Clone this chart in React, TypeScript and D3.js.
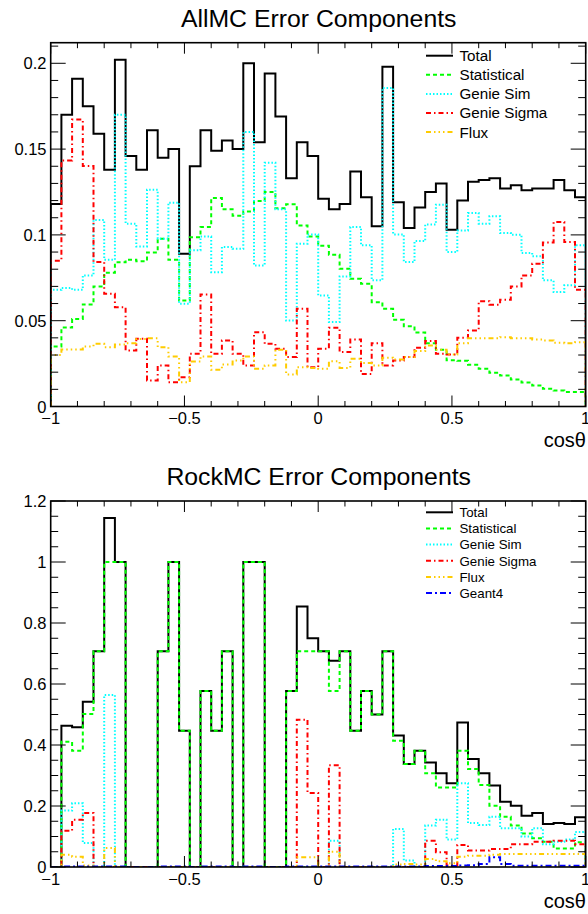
import React from "react";
import * as d3 from "d3";

const NBINS = 50;
const XMIN = -1;
const XMAX = 1;

// ---------- AllMC (top panel) ----------
const allTotal = [0.118, 0.170, 0.191, 0.175, 0.159, 0.138, 0.202, 0.146, 0.138, 0.161, 0.145, 0.150, 0.089, 0.140, 0.161, 0.149, 0.155, 0.150, 0.200, 0.154, 0.194, 0.169, 0.133, 0.154, 0.146, 0.121, 0.115, 0.118, 0.137, 0.122, 0.105, 0.198, 0.119, 0.104, 0.116, 0.125, 0.130, 0.103, 0.120, 0.131, 0.132, 0.133, 0.127, 0.129, 0.126, 0.127, 0.127, 0.132, 0.126, 0.122];
const allStat = [0.035, 0.046, 0.051, 0.0595, 0.070, 0.078, 0.084, 0.0855, 0.0847, 0.0898, 0.0978, 0.0855, 0.0618, 0.0987, 0.1046, 0.1215, 0.1149, 0.1112, 0.1137, 0.1197, 0.125, 0.1156, 0.1178, 0.1055, 0.0991, 0.0937, 0.0884, 0.0803, 0.0744, 0.0715, 0.0608, 0.0569, 0.0505, 0.0468, 0.0431, 0.0369, 0.033, 0.027, 0.0266, 0.0243, 0.022, 0.0196, 0.0181, 0.0157, 0.014, 0.0122, 0.0103, 0.0093, 0.0084, 0.0084];
const allGenieSim = [0.068, 0.069, 0.068, 0.0764, 0.1087, 0.0855, 0.170, 0.1065, 0.0933, 0.1263, 0.0978, 0.1188, 0.0599, 0.091, 0.099, 0.0783, 0.093, 0.0919, 0.160, 0.0822, 0.142, 0.1149, 0.0501, 0.0948, 0.1003, 0.0647, 0.0492, 0.0758, 0.1046, 0.0939, 0.0735, 0.1856, 0.1003, 0.0842, 0.0964, 0.1061, 0.1176, 0.090, 0.1026, 0.1127, 0.1065, 0.1108, 0.1011, 0.1001, 0.0894, 0.0875, 0.0735, 0.0667, 0.0706, 0.0939];
const allGenieSigma = [0.085, 0.1434, 0.1672, 0.1401, 0.0842, 0.0657, 0.0579, 0.0327, 0.0395, 0.0152, 0.0239, 0.0142, 0.0171, 0.0307, 0.0653, 0.0307, 0.0385, 0.0307, 0.0239, 0.0433, 0.0365, 0.0336, 0.0288, 0.0569, 0.0229, 0.0336, 0.0459, 0.0317, 0.0391, 0.019, 0.0369, 0.0239, 0.0268, 0.0288, 0.0342, 0.0381, 0.0307, 0.0303, 0.040, 0.0443, 0.0614, 0.0593, 0.0622, 0.070, 0.0764, 0.0832, 0.0956, 0.1075, 0.0958, 0.068];
const allFlux = [0.030, 0.0332, 0.0332, 0.035, 0.0365, 0.0346, 0.0362, 0.0369, 0.0393, 0.0398, 0.0346, 0.0292, 0.0142, 0.0262, 0.0292, 0.0214, 0.0245, 0.0268, 0.0292, 0.022, 0.0239, 0.033, 0.0187, 0.0229, 0.0225, 0.022, 0.0264, 0.0225, 0.0278, 0.0253, 0.0239, 0.0284, 0.0274, 0.0288, 0.0323, 0.0356, 0.033, 0.0303, 0.0369, 0.0398, 0.0398, 0.0398, 0.0404, 0.0398, 0.0398, 0.039, 0.0385, 0.0371, 0.0369, 0.0375];

// ---------- RockMC (bottom panel) ----------
const rockTotal = [0, 0.463, 0.458, 0.542, 0.707, 1.144, 1.0, 0, 0, 0, 0.707, 1.0, 0.447, 0, 0.577, 0.447, 0.707, 0, 1.0, 1.0, 0, 0, 0.577, 0.854, 0.75, 0.707, 0.676, 0.707, 0.447, 0.577, 0.5, 0.707, 0.431, 0.338, 0.381, 0.343, 0.307, 0.275, 0.474, 0.354, 0.307, 0.267, 0.214, 0.201, 0.168, 0.177, 0.141, 0.144, 0.141, 0.163];
const rockStat = [0, 0.411, 0.381, 0.502, 0.707, 1.0, 1.0, 0, 0, 0, 0.707, 1.0, 0.447, 0, 0.577, 0.447, 0.707, 0, 1.0, 1.0, 0, 0, 0.577, 0.707, 0.707, 0.707, 0.577, 0.707, 0.447, 0.577, 0.5, 0.707, 0.414, 0.338, 0.381, 0.307, 0.261, 0.261, 0.381, 0.321, 0.269, 0.201, 0.165, 0.136, 0.110, 0.094, 0.083, 0.061, 0.061, 0.081];
const rockGenieSim = [0, 0.185, 0.209, 0.079, 0, 0.564, 0, 0, 0, 0, 0, 0, 0, 0, 0, 0, 0, 0, 0, 0, 0, 0, 0, 0, 0, 0, 0.086, 0, 0, 0, 0, 0, 0.125, 0.021, 0, 0.136, 0.155, 0.09, 0.275, 0.144, 0.138, 0.165, 0.127, 0.127, 0.1, 0.127, 0.075, 0.083, 0.09, 0.115];
const rockGenieSigma = [0, 0.119, 0.155, 0.177, 0, 0, 0, 0, 0, 0, 0, 0, 0, 0, 0, 0, 0, 0, 0, 0, 0, 0, 0, 0.483, 0.243, 0, 0.334, 0, 0, 0, 0, 0, 0, 0, 0, 0.086, 0.048, 0.005, 0.072, 0.054, 0.054, 0.059, 0.059, 0.075, 0.075, 0.083, 0.083, 0.086, 0.086, 0.075];
const rockFlux = [0, 0.04, 0.034, 0.005, 0, 0.062, 0, 0, 0, 0, 0, 0, 0, 0, 0, 0, 0, 0, 0, 0, 0, 0, 0, 0.032, 0.032, 0, 0.05, 0, 0, 0, 0, 0, 0.008, 0.01, 0.008, 0.026, 0.019, 0.012, 0.034, 0.037, 0.037, 0.04, 0.043, 0.043, 0.043, 0.043, 0.043, 0.043, 0.043, 0.043];
const rockGeant4 = [0, 0.002, 0.002, 0.002, 0.002, 0.002, 0.002, 0, 0, 0, 0.002, 0.002, 0.002, 0, 0.002, 0.002, 0.002, 0, 0.002, 0.002, 0, 0, 0.002, 0.002, 0.002, 0.002, 0.002, 0.002, 0.002, 0.002, 0.002, 0.002, 0.002, 0.002, 0.002, 0.003, 0.003, 0.003, 0.005, 0.006, 0.01, 0.032, 0.01, 0.004, 0.004, 0.004, 0.004, 0.004, 0.004, 0.004];

// ---------- axis ticks ----------
const xMajorTicks = [-1, -0.5, 0, 0.5, 1];
const topYMajorTicks = [0, 0.05, 0.1, 0.15, 0.2];
const botYMajorTicks = [0, 0.2, 0.4, 0.6, 0.8, 1, 1.2];

type Series = { name: string; values: number[]; color: string; dash: string };

const STYLES = {
  total: { color: "#000000", dash: "" },
  stat: { color: "#00ff00", dash: "4,3" },
  sim: { color: "#00ffff", dash: "1.5,2" },
  sigma: { color: "#ff0000", dash: "5,3,1.5,3" },
  flux: { color: "#ffcc00", dash: "5,3,1.5,3,1.5,3,1.5,3" },
  geant: { color: "#0000ff", dash: "6,3,2,3" },
};

const topSeries: Series[] = [
  { name: "Total", values: allTotal, ...STYLES.total },
  { name: "Statistical", values: allStat, ...STYLES.stat },
  { name: "Genie Sim", values: allGenieSim, ...STYLES.sim },
  { name: "Genie Sigma", values: allGenieSigma, ...STYLES.sigma },
  { name: "Flux", values: allFlux, ...STYLES.flux },
];
const botSeries: Series[] = [
  { name: "Total", values: rockTotal, ...STYLES.total },
  { name: "Statistical", values: rockStat, ...STYLES.stat },
  { name: "Genie Sim", values: rockGenieSim, ...STYLES.sim },
  { name: "Genie Sigma", values: rockGenieSigma, ...STYLES.sigma },
  { name: "Flux", values: rockFlux, ...STYLES.flux },
  { name: "Geant4", values: rockGeant4, ...STYLES.geant },
];

const FONT = "'Liberation Sans', Arial, Helvetica, sans-serif";
const fmt = d3.format("~g");

type PanelProps = {
  id: string;
  title: string;
  titleY: number;
  frameTop: number;
  frameBottom: number;
  yMax: number;
  yMajor: number[];
  yMinorStep: number;
  series: Series[];
  legendY0: number;
  legendStep: number;
  legendFont: number;
};

function Panel(p: PanelProps) {
  const left = 50.7;
  const right = 585.7;
  const x = d3.scaleLinear().domain([XMIN, XMAX]).range([left, right]);
  const y = d3.scaleLinear().domain([0, p.yMax]).range([p.frameBottom, p.frameTop]);
  const edges = d3.range(NBINS + 1).map((i) => XMIN + (i * (XMAX - XMIN)) / NBINS);

  const line = d3
    .line<[number, number]>()
    .x((d) => x(d[0]))
    .y((d) => y(d[1]))
    .curve(d3.curveStepAfter);

  const histPath = (vals: number[]) => {
    const pts: [number, number][] = [[edges[0], 0]];
    vals.forEach((v, i) => pts.push([edges[i], v]));
    pts.push([edges[NBINS], vals[NBINS - 1]]);
    pts.push([edges[NBINS], 0]);
    return line(pts) || "";
  };

  const xMinor = d3.range(0, 21).map((i) => -1 + i * 0.1);
  const nYMinor = Math.floor(p.yMax / p.yMinorStep + 1e-6);
  const yMinor = d3.range(0, nYMinor + 1).map((i) => i * p.yMinorStep);

  const xMajLen = 11;
  const xMinLen = 5.5;
  const yMajLen = 15;
  const yMinLen = 7.5;
  const tickFont = 16.5;

  return (
    <g>
      <defs>
        <clipPath id={`clip-${p.id}`}>
          <rect x={left} y={p.frameTop} width={right - left} height={p.frameBottom - p.frameTop} />
        </clipPath>
      </defs>
      <text x={318.7} y={p.titleY} textAnchor="middle" fontFamily={FONT} fontSize={24.8} fill="#000">
        {p.title}
      </text>

      <g clipPath={`url(#clip-${p.id})`}>
        {p.series.map((s) => (
          <path
            key={s.name}
            d={histPath(s.values)}
            fill="none"
            stroke={s.color}
            strokeWidth={2}
            strokeDasharray={s.dash || undefined}
            strokeLinejoin="miter"
          />
        ))}
      </g>

      {/* x ticks bottom & top */}
      {xMinor.map((v, i) => {
        const major = xMajorTicks.some((m) => Math.abs(m - v) < 1e-6);
        const len = major ? xMajLen : xMinLen;
        const px = x(v);
        return (
          <g key={`xt${i}`} stroke="#000" strokeWidth={1}>
            <line x1={px} x2={px} y1={p.frameBottom} y2={p.frameBottom - len} />
            <line x1={px} x2={px} y1={p.frameTop} y2={p.frameTop + len} />
          </g>
        );
      })}
      {/* y ticks left & right */}
      {yMinor.map((v, i) => {
        const major = p.yMajor.some((m) => Math.abs(m - v) < 1e-6);
        const len = major ? yMajLen : yMinLen;
        const py = y(v);
        return (
          <g key={`yt${i}`} stroke="#000" strokeWidth={1}>
            <line x1={left} x2={left + len} y1={py} y2={py} />
            <line x1={right} x2={right - len} y1={py} y2={py} />
          </g>
        );
      })}

      {/* frame */}
      <rect
        x={left}
        y={p.frameTop}
        width={right - left}
        height={p.frameBottom - p.frameTop}
        fill="none"
        stroke="#000"
        strokeWidth={1.6}
      />

      {/* x labels */}
      {xMajorTicks.map((v) => (
        <text
          key={`xl${v}`}
          x={x(v)}
          y={p.frameBottom + 17.5}
          textAnchor="middle"
          fontFamily={FONT}
          fontSize={tickFont}
          fill="#000"
        >
          {fmt(v)}
        </text>
      ))}
      {/* y labels */}
      {p.yMajor.map((v) => (
        <text
          key={`yl${v}`}
          x={46.5}
          y={y(v) + 6}
          textAnchor="end"
          fontFamily={FONT}
          fontSize={tickFont}
          fill="#000"
        >
          {fmt(v)}
        </text>
      ))}
      <text x={586} y={p.frameBottom + 40.5} textAnchor="end" fontFamily={FONT} fontSize={20} fill="#000">
        cosθ
      </text>

      {/* legend */}
      {p.series.map((s, i) => {
        const ly = p.legendY0 + i * p.legendStep;
        return (
          <g key={`lg${s.name}`}>
            <line
              x1={426}
              x2={453}
              y1={ly}
              y2={ly}
              stroke={s.color}
              strokeWidth={2}
              strokeDasharray={s.dash || undefined}
            />
            <text
              x={459.5}
              y={ly + p.legendFont * 0.36}
              fontFamily={FONT}
              fontSize={p.legendFont}
              fill="#000"
            >
              {s.name}
            </text>
          </g>
        );
      })}
    </g>
  );
}

export default function App() {
  return (
    <svg
      width={588}
      height={914}
      viewBox="0 0 588 914"
      style={{ position: "absolute", left: 0, top: 0, background: "#fff" }}
    >
      <rect x={0} y={0} width={588} height={914} fill="#fff" />
      <Panel
        id="top"
        title="AllMC Error Components"
        titleY={26.5}
        frameTop={42.7}
        frameBottom={406.5}
        yMax={0.212}
        yMajor={topYMajorTicks}
        yMinorStep={0.01}
        series={topSeries}
        legendY0={55.7}
        legendStep={19.1}
        legendFont={15.2}
      />
      <Panel
        id="bot"
        title="RockMC Error Components"
        titleY={484.5}
        frameTop={501}
        frameBottom={867}
        yMax={1.2}
        yMajor={botYMajorTicks}
        yMinorStep={0.05}
        series={botSeries}
        legendY0={512.3}
        legendStep={16.15}
        legendFont={13.3}
      />
    </svg>
  );
}
